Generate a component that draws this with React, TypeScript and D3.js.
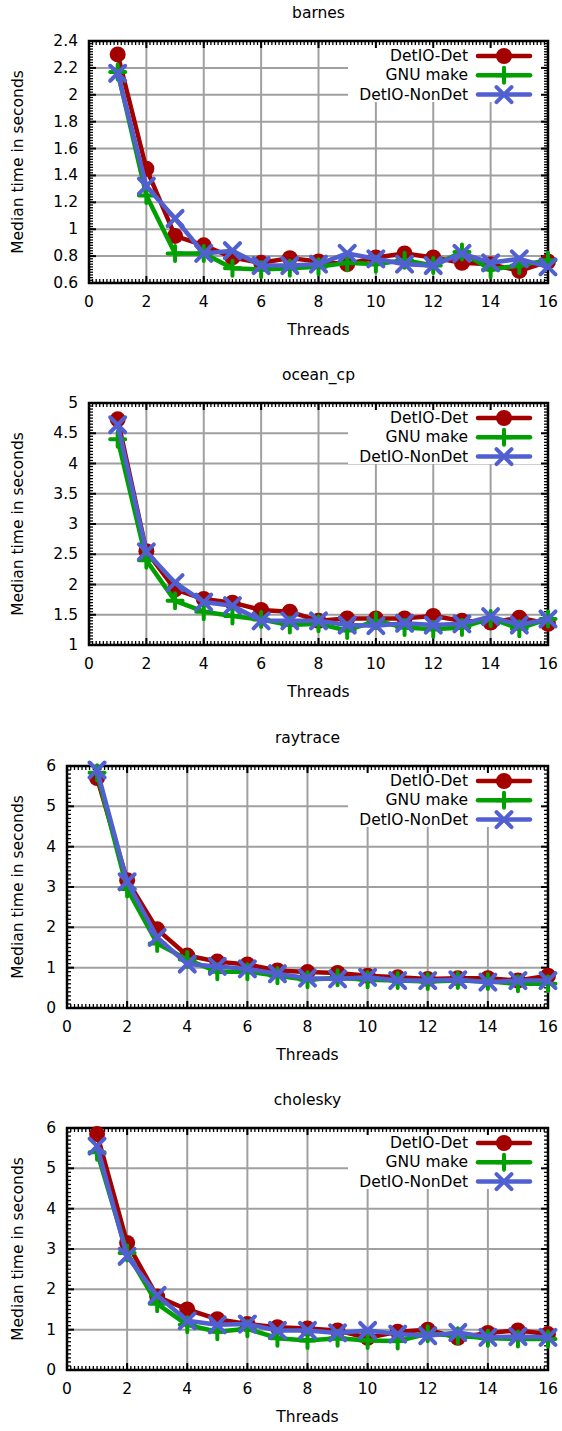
import React from "react";
import * as d3 from "d3";

const threads = [1, 2, 3, 4, 5, 6, 7, 8, 9, 10, 11, 12, 13, 14, 15, 16];
const xTicks = [0, 2, 4, 6, 8, 10, 12, 14, 16];
const seriesNames = ["DetIO-Det", "GNU make", "DetIO-NonDet"];

const barnesDet = [2.3, 1.45, 0.95, 0.88, 0.79, 0.75, 0.785, 0.76, 0.74, 0.79, 0.82, 0.79, 0.75, 0.74, 0.69, 0.76];
const barnesGnu = [2.17, 1.25, 0.82, 0.82, 0.71, 0.7, 0.71, 0.72, 0.75, 0.74, 0.77, 0.73, 0.83, 0.7, 0.73, 0.77];
const barnesNonDet = [2.16, 1.32, 1.08, 0.82, 0.84, 0.73, 0.73, 0.74, 0.82, 0.78, 0.74, 0.73, 0.82, 0.75, 0.78, 0.72];
const barnesTicks = [0.6, 0.8, 1, 1.2, 1.4, 1.6, 1.8, 2, 2.2, 2.4];

const oceanDet = [4.73, 2.55, 1.92, 1.76, 1.7, 1.58, 1.55, 1.4, 1.44, 1.44, 1.44, 1.48, 1.4, 1.37, 1.45, 1.35];
const oceanGnu = [4.4, 2.4, 1.73, 1.55, 1.48, 1.42, 1.33, 1.35, 1.24, 1.4, 1.29, 1.26, 1.29, 1.44, 1.27, 1.43];
const oceanNonDet = [4.64, 2.54, 2.03, 1.71, 1.65, 1.4, 1.4, 1.4, 1.33, 1.32, 1.36, 1.33, 1.35, 1.47, 1.33, 1.43];
const oceanTicks = [1, 1.5, 2, 2.5, 3, 3.5, 4, 4.5, 5];

const raytraceDet = [5.7, 3.17, 1.95, 1.3, 1.15, 1.08, 0.93, 0.89, 0.87, 0.8, 0.76, 0.72, 0.74, 0.74, 0.68, 0.8];
const raytraceGnu = [5.83, 2.95, 1.6, 1.2, 0.9, 0.9, 0.8, 0.7, 0.75, 0.7, 0.68, 0.66, 0.68, 0.66, 0.6, 0.6];
const raytraceNonDet = [5.9, 3.13, 1.75, 1.09, 1.03, 0.97, 0.85, 0.74, 0.72, 0.76, 0.68, 0.68, 0.7, 0.64, 0.68, 0.68];
const sixTicks = [0, 1, 2, 3, 4, 5, 6];

const choleskyDet = [5.85, 3.15, 1.82, 1.5, 1.26, 1.14, 1.06, 1.03, 0.98, 0.8, 0.95, 1.0, 0.8, 0.92, 0.98, 0.89];
const choleskyGnu = [5.4, 2.9, 1.64, 1.12, 0.95, 1.02, 0.79, 0.73, 0.79, 0.73, 0.72, 0.9, 0.85, 0.79, 0.77, 0.77];
const choleskyNonDet = [5.55, 2.82, 1.85, 1.22, 1.12, 1.14, 0.98, 0.98, 0.92, 0.98, 0.89, 0.85, 0.93, 0.81, 0.83, 0.81];

const colors = ["#a30000", "#00a000", "#5060d0"];
const font = "'DejaVu Sans', sans-serif";
const fs = 15.5;

const panels = [
  { title: "barnes", top: 41, left: 89, ticks: barnesTicks, series: [barnesDet, barnesGnu, barnesNonDet] },
  { title: "ocean_cp", top: 403, left: 89, ticks: oceanTicks, series: [oceanDet, oceanGnu, oceanNonDet] },
  { title: "raytrace", top: 766, left: 67, ticks: sixTicks, series: [raytraceDet, raytraceGnu, raytraceNonDet] },
  { title: "cholesky", top: 1128, left: 67, ticks: sixTicks, series: [choleskyDet, choleskyGnu, choleskyNonDet] },
];

const right = 548;
const ph = 242;

function Marker({ kind, x, y, color }: { kind: number; x: number; y: number; color: string }) {
  if (kind === 0) return <circle cx={x} cy={y} r={8} fill={color} />;
  const s = 7.5;
  const d =
    kind === 1
      ? `M${x - s},${y}H${x + s}M${x},${y - s}V${y + s}`
      : `M${x - s},${y - s}L${x + s},${y + s}M${x - s},${y + s}L${x + s},${y - s}`;
  return <path d={d} stroke={color} strokeWidth={4} strokeLinecap="round" fill="none" />;
}

function Panel({ p }: { p: (typeof panels)[number] }) {
  const x = d3.scaleLinear().domain([0, 16]).range([p.left, right]);
  const ext = d3.extent(p.ticks) as [number, number];
  const y = d3.scaleLinear().domain(ext).range([p.top + ph, p.top]);
  const bottom = p.top + ph;
  const keyLeft = 348;
  const keyBottom = p.top + 61;
  const xMinor = d3.range(0, 16.0001, 2 / 16);
  const yStep = p.ticks[1] - p.ticks[0];
  const yMinor = d3.range(ext[0], ext[1] + 1e-9, yStep / 10);
  const line = d3
    .line<number>()
    .x((_, i) => x(threads[i]))
    .y((d) => y(d));
  const keyRows = [15, 34.3, 53.6];
  const cx = (p.left + right) / 2;
  return (
    <g>
      {/* grid */}
      {xTicks.slice(1, -1).map((t) => (
        <line key={"gx" + t} x1={x(t)} x2={x(t)} y1={p.top} y2={bottom} stroke="#a0a0a0" strokeWidth={2} />
      ))}
      {p.ticks.slice(1, -1).map((t) => (
        <line key={"gy" + t} x1={p.left} x2={right} y1={y(t)} y2={y(t)} stroke="#a0a0a0" strokeWidth={2} />
      ))}
      <rect x={keyLeft} y={p.top} width={right - keyLeft} height={keyBottom - p.top} fill="#fff" />
      {/* minor ticks */}
      {xMinor.map((t, i) => (
        <g key={"mx" + i} stroke="#000" strokeWidth={1.3}>
          <line x1={x(t)} x2={x(t)} y1={bottom} y2={bottom - 4} />
          <line x1={x(t)} x2={x(t)} y1={p.top} y2={p.top + 4} />
        </g>
      ))}
      {yMinor.map((t, i) => (
        <g key={"my" + i} stroke="#000" strokeWidth={1.3}>
          <line x1={p.left} x2={p.left + 4} y1={y(t)} y2={y(t)} />
          <line x1={right} x2={right - 4} y1={y(t)} y2={y(t)} />
        </g>
      ))}
      {xTicks.map((t) => (
        <g key={"tx" + t} stroke="#000" strokeWidth={2}>
          <line x1={x(t)} x2={x(t)} y1={bottom} y2={bottom - 7} />
          <line x1={x(t)} x2={x(t)} y1={p.top} y2={p.top + 7} />
        </g>
      ))}
      {p.ticks.map((t) => (
        <g key={"ty" + t} stroke="#000" strokeWidth={2}>
          <line x1={p.left} x2={p.left + 7} y1={y(t)} y2={y(t)} />
          <line x1={right} x2={right - 7} y1={y(t)} y2={y(t)} />
        </g>
      ))}
      <rect x={p.left} y={p.top} width={right - p.left} height={ph} fill="none" stroke="#000" strokeWidth={2.5} />
      {/* labels */}
      {xTicks.map((t) => (
        <text key={"lx" + t} x={x(t)} y={bottom + 19} textAnchor="middle" dominantBaseline="central">
          {t}
        </text>
      ))}
      {p.ticks.map((t) => (
        <text key={"ly" + t} x={p.left - 11} y={y(t)} textAnchor="end" dominantBaseline="central">
          {String(t)}
        </text>
      ))}
      <text x={cx} y={p.top - 28} textAnchor="middle" dominantBaseline="central">
        {p.title}
      </text>
      <text x={cx} y={bottom + 47} textAnchor="middle" dominantBaseline="central">
        Threads
      </text>
      <text
        transform={`translate(18,${(p.top + bottom) / 2}) rotate(-90)`}
        textAnchor="middle"
        dominantBaseline="central"
      >
        Median time in seconds
      </text>
      {/* series */}
      {p.series.map((s, k) => (
        <g key={"s" + k}>
          <path d={line(s) || ""} fill="none" stroke={colors[k]} strokeWidth={4.5} strokeLinejoin="round" />
          {s.map((v, i) => (
            <Marker key={i} kind={k} x={x(threads[i])} y={y(v)} color={colors[k]} />
          ))}
        </g>
      ))}
      {/* key */}
      {seriesNames.map((n, k) => (
        <g key={"k" + k}>
          <text x={468} y={p.top + keyRows[k]} textAnchor="end" dominantBaseline="central">
            {n}
          </text>
          <line x1={478} x2={530} y1={p.top + keyRows[k]} y2={p.top + keyRows[k]} stroke={colors[k]} strokeWidth={4.5} strokeLinecap="round" />
          <Marker kind={k} x={504} y={p.top + keyRows[k]} color={colors[k]} />
        </g>
      ))}
    </g>
  );
}

export default function App() {
  return (
    <svg
      width={562}
      height={1431}
      style={{ position: "absolute", left: 0, top: 0, background: "#fff" }}
      fontFamily={font}
      fontSize={fs}
      fill="#000"
    >
      {panels.map((p) => (
        <Panel key={p.title} p={p} />
      ))}
    </svg>
  );
}
